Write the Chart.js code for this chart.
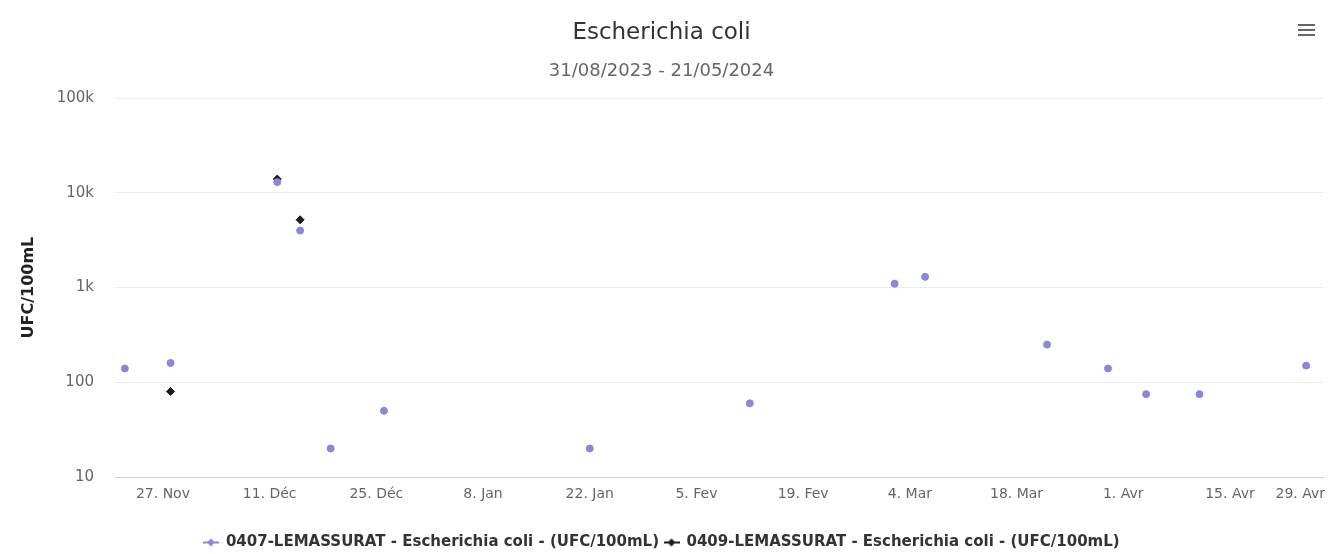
<!DOCTYPE html>
<html lang="fr">
<head>
<meta charset="utf-8">
<title>Escherichia coli</title>
<script src="https://cdn.jsdelivr.net/npm/chart.js@4/dist/chart.umd.min.js"></script>
<style>
  html, body { margin: 0; padding: 0; background: #fff; }
  #wrap { position: relative; width: 1333px; height: 554px; overflow: hidden; }
  #menu { position: absolute; left: 1298px; top: 24px; width: 17px; cursor: pointer; }
  #menu span { display: block; height: 2px; background: #666; margin-bottom: 3px; }
</style>
</head>
<body>
<div id="wrap">
  <canvas id="ecoliChart" width="1333" height="554"></canvas>
  <div id="menu"><span></span><span></span><span></span></div>
</div>
<script>
// --- Données ---
const chartTitle = "Escherichia coli";
const chartPeriod = "31/08/2023 - 21/05/2024";
const unitLabel = "UFC/100mL";

const series1Name = "0407-LEMASSURAT - Escherichia coli - (UFC/100mL)";
const series1Dates = [
  "2023-11-22", "2023-11-28", "2023-12-12", "2023-12-15", "2023-12-19",
  "2023-12-26", "2024-01-22", "2024-02-12", "2024-03-02", "2024-03-06",
  "2024-03-22", "2024-03-30", "2024-04-04", "2024-04-11", "2024-04-25",
];
const series1Values = [140, 160, 13000, 4000, 20, 50, 20, 60, 1100, 1300, 250, 140, 75, 75, 150];

const series2Name = "0409-LEMASSURAT - Escherichia coli - (UFC/100mL)";
const series2Dates = ["2023-11-28", "2023-12-12", "2023-12-15"];
const series2Values = [80, 14000, 5200];

const xTickDates = [
  "2023-11-27", "2023-12-11", "2023-12-25", "2024-01-08", "2024-01-22", "2024-02-05",
  "2024-02-19", "2024-03-04", "2024-03-18", "2024-04-01", "2024-04-15", "2024-04-29",
];
const xTickLabels = [
  "27. Nov", "11. Déc", "25. Déc", "8. Jan", "22. Jan", "5. Fev",
  "19. Fev", "4. Mar", "18. Mar", "1. Avr", "15. Avr", "29. Avr",
];
const xRange = ["2023-11-20T17:00:00Z", "2024-04-27T05:00:00Z"];

const yTicks = [10, 100, 1000, 10000, 100000];
const yTickLabels = ["10", "100", "1k", "10k", "100k"];

// jours depuis le premier repère de l'axe
const DAY = 86400000;
const origin = Date.parse(xTickDates[0]);
const toDay = (d) => (Date.parse(d) - origin) / DAY;

const toPoints = (dates, values) => dates.map((d, i) => ({ x: toDay(d), y: values[i] }));

const colors = ["#8787dc", "#1c1c1c"];
const fontFamily = '"DejaVu Sans", sans-serif';

// --- Icône de légende : trait + losange ---
function legendIcon(color) {
  const c = document.createElement("canvas");
  c.width = 16; c.height = 10;
  const g = c.getContext("2d");
  g.strokeStyle = color; g.lineWidth = 2;
  g.beginPath(); g.moveTo(0, 5); g.lineTo(16, 5); g.stroke();
  g.fillStyle = color;
  g.beginPath(); g.moveTo(8, 1); g.lineTo(12, 5); g.lineTo(8, 9); g.lineTo(4, 5); g.closePath(); g.fill();
  return c;
}
const icons = colors.map(legendIcon);

// --- Étiquettes de dates (la dernière est ramenée dans le cadre) ---
const dateLabels = {
  id: "dateLabels",
  afterDraw(chart) {
    const x = chart.scales.x;
    const c = chart.ctx;
    c.save();
    c.font = "14px " + fontFamily;
    c.fillStyle = "#666";
    c.textAlign = "center";
    c.textBaseline = "middle";
    xTickDates.forEach((d, i) => {
      const text = xTickLabels[i];
      const w = c.measureText(text).width;
      let px = x.getPixelForValue(toDay(d));
      px = Math.min(px, chart.width - 8 - w / 2);
      c.fillText(text, px, x.top + 17);
    });
    c.restore();
  },
};

// --- Graphique ---
const ctx = document.getElementById("ecoliChart").getContext("2d");
const ecoliChart = new Chart(ctx, {
  type: "scatter",
  data: {
    datasets: [
      {
        label: series1Name,
        data: toPoints(series1Dates, series1Values),
        backgroundColor: colors[0],
        borderColor: colors[0],
        pointStyle: "circle",
        pointRadius: 3.5,
        pointHoverRadius: 5,
      },
      {
        label: series2Name,
        data: toPoints(series2Dates, series2Values),
        backgroundColor: colors[1],
        borderColor: colors[1],
        pointStyle: "rectRot",
        pointRadius: 4,
        pointHoverRadius: 5,
      },
    ],
  },
  options: {
    responsive: false,
    animation: false,
    layout: { padding: { left: 0, right: 10, top: 0, bottom: -6 } },
    scales: {
      x: {
        type: "linear",
        min: toDay(xRange[0]),
        max: toDay(xRange[1]),
        grid: { display: false },
        border: { color: "#d0d0d0", width: 1 },
        ticks: { display: false },
        afterFit: (scale) => { scale.height = 53; },
      },
      y: {
        type: "logarithmic",
        min: yTicks[0],
        max: yTicks[yTicks.length - 1],
        afterBuildTicks: (scale) => { scale.ticks = yTicks.map((v) => ({ value: v })); },
        afterFit: (scale) => { scale.width = 115; },
        grid: { color: "#ececec", drawTicks: false },
        border: { display: false },
        ticks: {
          padding: 21,
          color: "#666",
          font: { family: fontFamily, size: 15 },
          callback: (v) => yTickLabels[yTicks.indexOf(v)],
        },
        title: {
          display: true,
          text: unitLabel,
          color: "#222",
          font: { family: fontFamily, size: 16, weight: "600" },
          padding: { top: 19, bottom: 0 },
        },
      },
    },
    plugins: {
      title: {
        display: true,
        text: chartTitle,
        color: "#333",
        font: { family: fontFamily, size: 23, weight: "normal" },
        padding: { top: 19, bottom: 8 },
      },
      subtitle: {
        display: true,
        text: chartPeriod,
        color: "#666",
        font: { family: fontFamily, size: 18 },
        padding: { top: 6, bottom: 16 },
      },
      legend: {
        position: "bottom",
        labels: {
          color: "#333",
          font: { family: fontFamily, size: 15, weight: "bold" },
          usePointStyle: true,
          padding: 5,
          generateLabels: (chart) =>
            Chart.defaults.plugins.legend.labels.generateLabels(chart)
              .map((l, i) => ({ ...l, pointStyle: icons[i] })),
        },
      },
      tooltip: { enabled: true },
    },
  },
  plugins: [dateLabels],
});
</script>
</body>
</html>
